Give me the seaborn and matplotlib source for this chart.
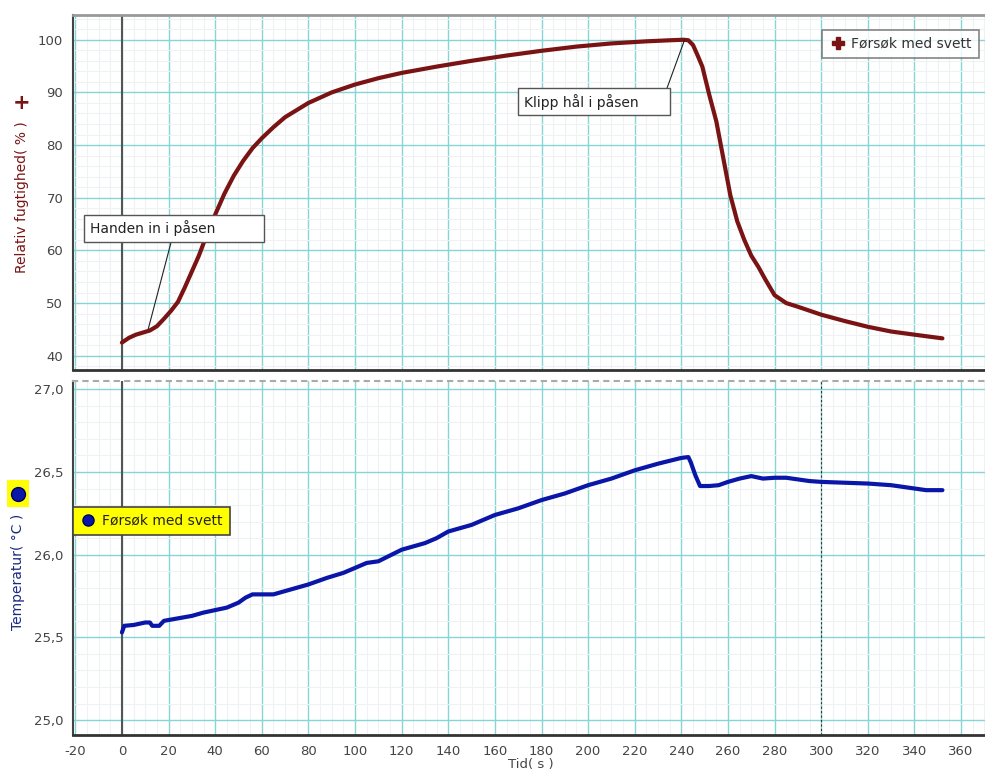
import numpy as np
import pandas as pd
import matplotlib
matplotlib.use("Agg")
import matplotlib.pyplot as plt
from matplotlib.lines import Line2D
from matplotlib.ticker import MultipleLocator, FuncFormatter
import seaborn as sns

# ---- data ----
t_rh = [0, 3, 6, 9, 12, 15, 18, 21, 24, 27, 30, 33, 36, 40, 44, 48, 52, 56, 60, 65,
        70, 80, 90, 100, 110, 120, 135, 150, 165, 180, 195, 210, 225, 235, 241, 243,
        245, 247, 249, 252, 255, 258, 261, 264, 267, 270, 273, 276, 280, 285, 290,
        300, 310, 320, 330, 340, 352]
rh = [42.5, 43.4, 44.0, 44.4, 44.8, 45.6, 47.0, 48.5, 50.2, 53.0, 56.0, 59.0, 62.5,
      66.8, 70.8, 74.2, 77.0, 79.4, 81.3, 83.4, 85.3, 88.0, 90.0, 91.5, 92.7, 93.7,
      94.9, 96.0, 97.0, 97.9, 98.7, 99.3, 99.7, 99.9, 100.0, 99.9, 99.0, 97.0, 94.9,
      89.5, 84.5, 77.5, 70.5, 65.5, 62.0, 59.0, 56.9, 54.5, 51.5, 50.0, 49.3, 47.8,
      46.6, 45.5, 44.6, 44.0, 43.3]

t_temp = [0, 1, 5, 10, 12, 13, 16, 18, 22, 26, 30, 35, 40, 45, 50, 53, 56, 60, 65, 70,
          75, 80, 88, 95, 100, 105, 110, 120, 130, 135, 140, 150, 160, 170, 180, 190,
          200, 210, 220, 230, 240, 243, 244, 246, 248, 252, 256, 260, 265, 270, 275,
          280, 285, 290, 295, 300, 310, 320, 330, 340, 345, 352]
temp = [25.53, 25.57, 25.575, 25.59, 25.59, 25.57, 25.57, 25.60, 25.61, 25.62, 25.63,
        25.65, 25.665, 25.68, 25.71, 25.74, 25.76, 25.76, 25.76, 25.78, 25.80, 25.82,
        25.86, 25.89, 25.92, 25.95, 25.96, 26.03, 26.07, 26.10, 26.14, 26.18, 26.24,
        26.28, 26.33, 26.37, 26.42, 26.46, 26.51, 26.55, 26.585, 26.59, 26.56, 26.48,
        26.415, 26.415, 26.42, 26.44, 26.46, 26.475, 26.46, 26.465, 26.465, 26.455,
        26.445, 26.44, 26.435, 26.43, 26.42, 26.40, 26.39, 26.39]

series_label = "Førsøk med svett"
rh_ticks = [40, 50, 60, 70, 80, 90, 100]
temp_ticks = [25.0, 25.5, 26.0, 26.5, 27.0]
x_ticks = list(range(-20, 361, 20))

RED = "#7a1414"
BLUE = "#0a16a8"
MAJOR = "#86d4d4"
MINOR = "#edf2f2"

sns.set_theme(style="white")
plt.rcParams["font.family"] = ["DejaVu Sans"]
plt.rcParams["axes.unicode_minus"] = False

df_rh = pd.DataFrame({"t": t_rh, "rh": rh})
df_temp = pd.DataFrame({"t": t_temp, "temp": temp})

fig = plt.figure(figsize=(9.85, 7.81), dpi=100)
ax1 = fig.add_axes([0.0741, 0.5263, 0.93, 0.4545])
ax2 = fig.add_axes([0.0741, 0.0589, 0.93, 0.4533], sharex=ax1)


def style_grid(ax):
    ax.xaxis.set_major_locator(MultipleLocator(20))
    ax.xaxis.set_minor_locator(MultipleLocator(5))
    ax.grid(True, which="major", color=MAJOR, lw=1.0, zorder=0)
    ax.grid(True, which="minor", color=MINOR, lw=0.8, zorder=0)
    ax.set_axisbelow(True)
    ax.tick_params(axis="both", which="major", length=4, width=1, color="#444",
                   labelsize=9.5, labelcolor="#444", pad=3)
    ax.tick_params(axis="both", which="minor", length=2, width=0.8, color="#888")
    ax.spines["right"].set_visible(False)
    ax.spines["left"].set_color("#444")
    ax.spines["left"].set_linewidth(1.5)
    ax.spines["bottom"].set_color("#333")
    ax.spines["bottom"].set_linewidth(2)
    ax.axvline(0, color="#555", lw=1.5, zorder=1)
    ax.set_xlabel("")
    ax.set_ylabel("")


# ---- top: relative humidity ----
sns.lineplot(data=df_rh, x="t", y="rh", ax=ax1, color=RED, lw=3, zorder=3)
ax1.set_xlim(-21, 372)
ax1.set_ylim(37.3, 104.7)
ax1.yaxis.set_major_locator(MultipleLocator(10))
ax1.yaxis.set_minor_locator(MultipleLocator(2))
style_grid(ax1)
ax1.set_yticks(rh_ticks)
ax1.spines["top"].set_color("#999")
ax1.spines["top"].set_linewidth(2)
ax1.tick_params(axis="x", which="both", labelbottom=False, length=0)

ax1.annotate("Handen in i påsen          ", xy=(11.3, 45.1), xytext=(-13.8, 64.2),
             fontsize=10, color="#222", va="center", ha="left",
             bbox=dict(boxstyle="square,pad=0.4", fc="white", ec="#555", lw=1),
             arrowprops=dict(arrowstyle="-", color="#222", lw=0.8,
                             relpos=(0.49, 0.0), shrinkA=0, shrinkB=0),
             zorder=5)
ax1.annotate("Klipp hål i påsen      ", xy=(241.4, 100), xytext=(172.5, 88.2),
             fontsize=10, color="#222", va="center", ha="left",
             bbox=dict(boxstyle="square,pad=0.4", fc="white", ec="#555", lw=1),
             arrowprops=dict(arrowstyle="-", color="#222", lw=0.8,
                             relpos=(1.0, 1.0), shrinkA=0, shrinkB=0),
             zorder=5)

leg1 = ax1.legend(handles=[Line2D([], [], marker="P", color=RED, ls="none", markersize=9)],
                  labels=[series_label], loc="upper left", bbox_to_anchor=(0.818, 0.958),
                  borderaxespad=0, fontsize=10, frameon=True, fancybox=False,
                  edgecolor="#666", handletextpad=0.4, borderpad=0.5, handlelength=1.2)
leg1.get_frame().set_linewidth(1.2)
for txt in leg1.get_texts():
    txt.set_color("#333")

# ---- bottom: temperature ----
sns.lineplot(data=df_temp, x="t", y="temp", ax=ax2, color=BLUE, lw=3, zorder=3)
ax2.set_ylim(24.91, 27.05)
ax2.yaxis.set_major_locator(MultipleLocator(0.5))
ax2.yaxis.set_minor_locator(MultipleLocator(0.1))
style_grid(ax2)
ax2.set_yticks(temp_ticks)
ax2.yaxis.set_major_formatter(FuncFormatter(lambda v, p: f"{v:.1f}".replace(".", ",")))
ax2.set_xticks(x_ticks)
ax2.spines["top"].set_color("#aaa")
ax2.spines["top"].set_linestyle((0, (2, 3)))
ax2.spines["top"].set_linewidth(1.5)
ax2.axvline(300, color="#333", lw=0.8, ls=(0, (2, 2)), zorder=1)
ax2.set_xlabel("Tid( s )", fontsize=9.5, color="#444", labelpad=0)

leg2 = ax2.legend(handles=[Line2D([], [], marker="o", color=BLUE, mec="#000060", ls="none",
                                  markersize=8)],
                  labels=[series_label], loc="upper left", bbox_to_anchor=(0.0, 0.644),
                  borderaxespad=0, fontsize=10, frameon=True, fancybox=False,
                  facecolor="#ffff00", edgecolor="#444", framealpha=1,
                  handletextpad=0.4, borderpad=0.5, handlelength=1.2)
leg2.get_frame().set_linewidth(1.2)
for txt in leg2.get_texts():
    txt.set_color("#222")

# ---- y-axis titles with series markers ----
fig.text(0.022, 0.748, "Relativ fugtighed( % )", rotation=90, fontsize=10, color=RED,
         ha="center", va="center")
fig.text(0.022, 0.868, "+", fontsize=15, fontweight="bold", color=RED,
         ha="center", va="center")
fig.text(0.018, 0.268, "Temperatur( °C )", rotation=90, fontsize=10, color="#1a2a80",
         ha="center", va="center")
fig.lines.append(Line2D([0.018], [0.368], transform=fig.transFigure, marker="o",
                        color=BLUE, mec="#000060", markersize=10, ls="none"))
fig.patches.append(plt.Rectangle((0.007, 0.351), 0.022, 0.034, transform=fig.transFigure,
                                 fc="#ffff00", ec="none", zorder=0))

fig.savefig("out.png", dpi=100)
